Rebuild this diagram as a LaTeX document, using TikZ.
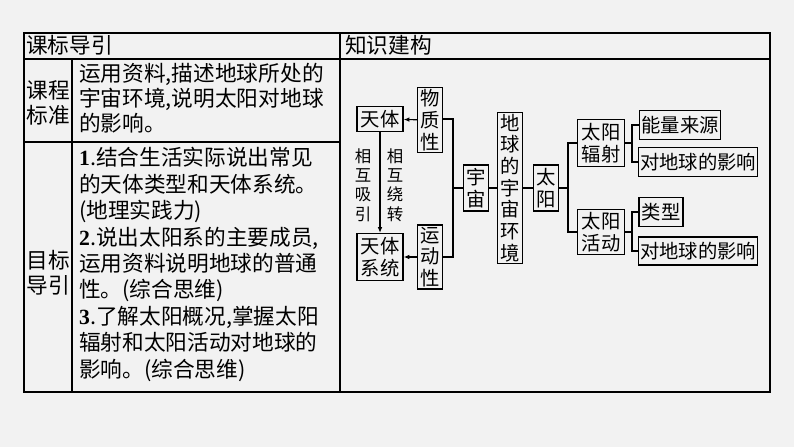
\documentclass[tikz,border=0pt]{standalone}
\usepackage{fontspec}
\setmainfont{Liberation Serif}
\newfontfamily\cjk{Noto Sans CJK SC}
\usetikzlibrary{arrows.meta, positioning}
\newcommand\pxu{0.03cm}

\begin{document}
\begin{tikzpicture}[x=0.03cm, y=-0.03cm,
  box/.style={draw, line width=1pt, inner sep=1pt, align=center, font=\cjk\fontsize{16.5}{18.5}\selectfont},
  txt/.style={inner sep=0pt, anchor=north west, align=left, font=\cjk\fontsize{18.5}{21.3}\selectfont},
  link/.style={line width=1pt},
  arr/.style={line width=1pt, -{Latex[length=5pt, width=4pt]}}]
  \fill[black!5] (0,0) rectangle (794,447);
  % table
  \draw[line width=1pt] (24,33) rectangle (770,392);
  \draw[line width=1pt] (24,59) -- (770,59);
  \draw[line width=1pt] (340,33) -- (340,392);
  \draw[line width=1pt] (72,59) -- (72,392);
  \draw[line width=1pt] (24,142) -- (340,142);
  \node[txt] (head1) at (26,35) {课标导引};
  \node[txt] (head2) at (345,35) {知识建构};
  \node[txt, anchor=center, align=center] (std) at (48,103) {课程\\标准};
  \node[txt, anchor=center, align=center] (goal) at (48,273) {目标\\导引};
  \node[txt] (stdtext) at (79,63) {运用资料,描述地球所处的\\宇宙环境,说明太阳对地球\\的影响。};
  \node[txt, font=\cjk\fontsize{18.5}{22.6}\selectfont] (goaltext) at (79,147)
    {{\rmfamily\bfseries 1}.结合生活实际说出常见\\的天体类型和天体系统。\\(地理实践力)\\{\rmfamily\bfseries 2}.说出太阳系的主要成员,\\运用资料说明地球的普通\\性。(综合思维)\\{\rmfamily\bfseries 3}.了解太阳概况,掌握太阳\\辐射和太阳活动对地球的\\影响。(综合思维)};
  % concept map
  \node[box, minimum width=46*\pxu, minimum height=25*\pxu] (tianti) at (380,119) {天体};
  \node[box, minimum width=46*\pxu, minimum height=47*\pxu] (xitong) at (380,257) {天体\\系统};
  \node[box, minimum width=25*\pxu, minimum height=65*\pxu] (wuzhi) at (430,120) {物\\质\\性};
  \node[box, minimum width=25*\pxu, minimum height=64*\pxu] (yundong) at (430,257) {运\\动\\性};
  \node[box, minimum width=25*\pxu, minimum height=46*\pxu] (yuzhou) at (476,188) {宇\\宙};
  \node[box, minimum width=25*\pxu, minimum height=147*\pxu] (huanjing) at (510,188) {地\\球\\的\\宇\\宙\\环\\境};
  \node[box, minimum width=25*\pxu, minimum height=46*\pxu] (taiyang) at (546,188) {太\\阳};
  \node[box, minimum width=47*\pxu, minimum height=47*\pxu] (fushe) at (601,143) {太阳\\辐射};
  \node[box, minimum width=47*\pxu, minimum height=45*\pxu] (huodong) at (601,232) {太阳\\活动};
  \node[box, minimum width=81*\pxu, minimum height=29*\pxu] (nengliang) at (680,125) {能量来源};
  \node[box, minimum width=118*\pxu, minimum height=29*\pxu] (yingxiang1) at (698,162) {对地球的影响};
  \node[box, minimum width=44*\pxu, minimum height=29*\pxu] (leixing) at (661,212) {类型};
  \node[box, minimum width=118*\pxu, minimum height=28*\pxu] (yingxiang2) at (698,251) {对地球的影响};
  \node[align=center, font=\cjk\fontsize{14}{16.5}\selectfont] (xiyin) at (363,185) {相\\互\\吸\\引};
  \node[align=center, font=\cjk\fontsize{14}{16.5}\selectfont] (raozhuan) at (395,185) {相\\互\\绕\\转};

  \draw[arr] (tianti) -- (xitong);
  \draw[arr] (wuzhi) -- (tianti);
  \draw[arr] (yundong) -- (xitong);
  \coordinate (bus1) at (453,188);
  \draw[link] (wuzhi.east |- tianti) -| (bus1) |- (yundong.east |- xitong);
  \draw[link] (bus1) -- (yuzhou);
  \draw[link] (yuzhou) -- (huanjing);
  \draw[link] (huanjing) -- (taiyang);
  \coordinate (bus2) at (568,188);
  \draw[link] (taiyang) -- (bus2);
  \draw[link] (fushe) -| (bus2) |- (huodong);
  \coordinate (bus3) at (632,143);
  \draw[link] (fushe) -- (bus3);
  \draw[link] (nengliang) -| (bus3) |- (yingxiang1);
  \coordinate (bus4) at (632,232);
  \draw[link] (huodong) -- (bus4);
  \draw[link] (leixing) -| (bus4) |- (yingxiang2);
\end{tikzpicture}
\end{document}
